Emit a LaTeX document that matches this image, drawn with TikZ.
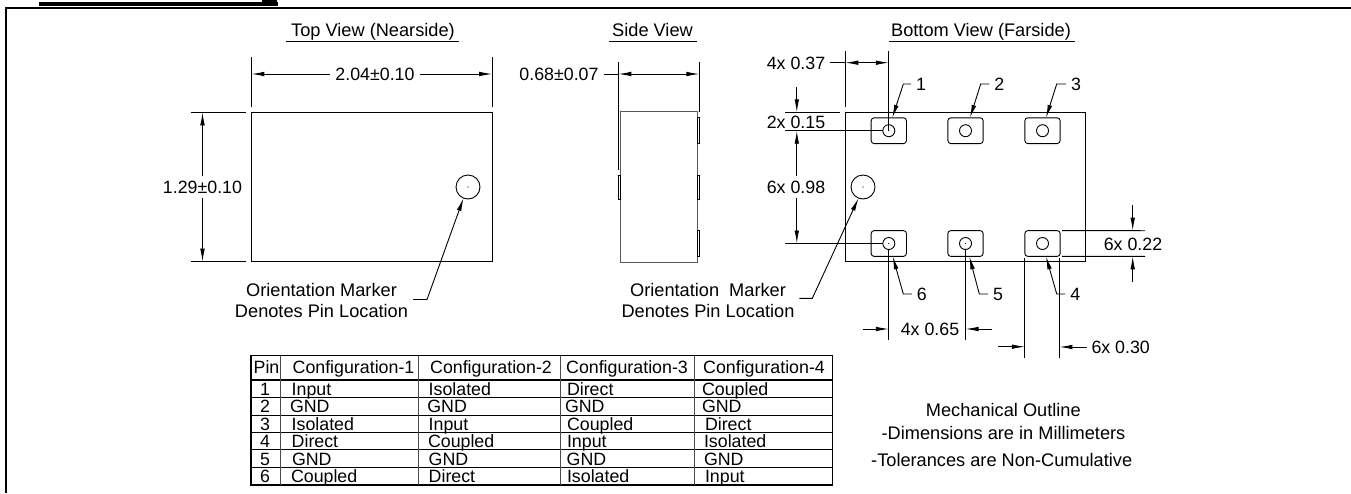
\documentclass[tikz,border=0pt]{standalone}
\usepackage{fontspec}
\setmainfont{Liberation Sans}
\usetikzlibrary{arrows.meta}
\newcommand{\padgen}[3]{
  \node(pad#1)[padbox] at (#2,#3){};
  \node(hole#1)[holemark] at (#2,#3){};
}
\newcommand{\pinlead}[5]{
  \node(pin#1)[dimlabel] at (#2,#3){#1};
  \draw[<-] (#4) -- ([xshift=#5pt]pin#1.center) -- (pin#1);
}
\newcommand{\titlegen}[5]{
  \node(title#1)[anchor=base,notefont] at (#2,36.5){#3};
  \draw[thinline] (#4,41) -- (#5,41);
}

\begin{document}
\begin{tikzpicture}[
  x=1pt,y=-1pt,
  >={Latex[length=13pt,width=4.6pt]},
  every node/.style={font=\fontsize{17.8}{20}\selectfont,inner sep=0pt,outer sep=0pt},
  every path/.style={line width=0.9pt},
  thinline/.style={line width=0.9pt},
  notefont/.style={font=\fontsize{18.2}{21}\selectfont},
  dimlabel/.style={inner sep=5pt},
  bodybox/.style={draw,minimum width=#1},
  padbox/.style={draw,rounded corners=3pt,minimum width=35.3pt,minimum height=25.8pt},
  holemark/.style={draw,circle,minimum size=12pt},
  markercircle/.style={draw,circle,minimum size=24pt},
  dotmark/.style={fill,circle,minimum size=1.2pt},
  cell/.style={anchor=base west},
  ]
  \useasboundingbox (0,0) rectangle (1351,493);
  % sheet frame
  \fill (39.3,1.7) rectangle (277.7,6);
  \fill (262,0) rectangle (277,1.7);
  \draw[line width=2.2pt] (5.9,493) -- (5.9,8) -- (1351,8);

  % top view
  \titlegen{top}{373}{Top View (Nearside)}{286}{459}
  \node(topview)[bodybox=240.8pt,minimum height=149.4pt] at (371.8,187){};
  \node(topmark)[markercircle] at (468,187){};
  \node(topdot)[dotmark] at (topmark){};
  \node(topwidth)[dimlabel] at (375,74){2.04±0.10};
  \node(topheight)[dimlabel] at (202.5,187){1.29±0.10};
  \draw ([yshift=5pt]topview.north west) -- ++(0,-50);
  \draw ([yshift=5pt]topview.north east) -- ++(0,-50);
  \draw ([xshift=-5pt]topview.north west) -- ++(-55,0);
  \draw ([xshift=-5pt]topview.south west) -- ++(-55,0);
  \draw[->] (topwidth) -- (topwidth -| topview.west);
  \draw[->] (topwidth) -- (topwidth -| topview.east);
  \draw[->] (topheight) -- (topheight |- topview.north);
  \draw[->] (topheight) -- (topheight |- topview.south);
  \node(topnote)[align=center,notefont] at (321.5,300){Orientation Marker\\Denotes Pin Location};
  \draw[<-] (topmark.-112) -- (427,299.5) -- (413,299.5);

  % side view
  \titlegen{side}{652.5}{Side View}{608.5}{697}
  \node(sideview)[bodybox=76.6pt,minimum height=150.6pt,draw=black!65] at (659,187){};
  \foreach \py/\ph [count=\c] in {130/26,187/24,243.7/26}{
    \node(sidepad\c)[draw,minimum width=2.6pt,minimum height=\ph pt] at (698.6,\py){};
  }
  \node(sidepad4)[draw,minimum width=2.6pt,minimum height=24pt] at (619.3,187){};
  \node(sidewidth)[dimlabel] at (559,74){0.68±0.07};
  \coordinate(sideleft) at (618.3,74);
  \coordinate(sideright) at (699.3,74);
  \draw (sideleft) ++(0,-12) -- ++(0,108);
  \draw (sideright) ++(0,-12) -- ++(0,50);
  \draw[<->] (sideleft) -- (sideright);
  \draw (sidewidth) -- (sideleft);

  % bottom view
  \titlegen{bottom}{981}{Bottom View (Farside)}{888.7}{1075}
  \node(bottomview)[bodybox=240.4pt,minimum height=149pt] at (965.5,186.8){};
  \padgen{1}{888.8}{130.7}
  \padgen{2}{965.5}{130.7}
  \padgen{3}{1042.5}{130.7}
  \padgen{6}{888.8}{243.5}
  \padgen{5}{965.5}{243.5}
  \padgen{4}{1042.5}{243.5}
  \foreach \h in {1,6,5}{
    \node(dot\h)[dotmark] at (hole\h){};
  }
  \node(bottommark)[markercircle] at (863,187){};
  \node(bottomdot)[dotmark] at (bottommark){};
  \pinlead{1}{921}{84}{[xshift=3.5pt]pad1.north}{-17.7}
  \pinlead{2}{999.3}{84}{[xshift=4.5pt]pad2.north}{-18.6}
  \pinlead{3}{1076}{84}{[xshift=3.5pt]pad3.north}{-19.3}
  \pinlead{6}{921.7}{294}{[xshift=3.9pt]pad6.south}{-18.4}
  \pinlead{5}{998}{294}{[xshift=3.8pt]pad5.south}{-18.7}
  \pinlead{4}{1075.3}{294}{[xshift=3.5pt]pad4.south}{-18.6}

  % dimensions of the bottom view
  \node(dimpitch)[dimlabel] at (796,63.5){4x 0.37};
  \draw (bottomview.north west) ++(0,-5) -- ++(0,-56);
  \draw (hole1.center) -- (hole1 |- 0,51);
  \draw[<->] (bottomview.west |- 0,62.7) -- (hole1 |- 0,62.7);
  \draw (dimpitch.east |- 0,62.7) -- (bottomview.west |- 0,62.7);
  \node(dimedge)[inner sep=0pt] at (796,122){2x 0.15};
  \node(dimspan)[dimlabel] at (796,187){6x 0.98};
  \draw (785,112.3) -- (840,112.3);
  \draw (785,130.7) -- (hole1);
  \draw (785,243.5) -- (hole6);
  \draw[->] (796.8,87) -- (796.8,112.3);
  \draw[->] (dimspan.north -| 796.8,0) -- (796.8,130.7);
  \draw[->] (dimspan.south -| 796.8,0) -- (796.8,243.5);
  \node(dimnote)[dimlabel] at (1133,244){6x 0.22};
  \draw (pad4.north east) ++(2,0) -- (1145,230.7);
  \draw (pad4.south east) ++(2,0) -- (1145,256.3);
  \draw[->] (1132.7,205) -- (1132.7,230.7);
  \draw[->] (1132.7,281.7) -- (1132.7,256.3);
  \node(dimrow)[dimlabel] at (930,329){4x 0.65};
  \draw (hole6) -- (hole6 |- 0,340);
  \draw (hole5) -- (hole5 |- 0,340);
  \draw[->] (862.7,329) -- (hole6 |- 0,329);
  \draw[->] (992,329) -- (hole5 |- 0,329);
  \node(dimpad)[dimlabel] at (1120.7,347){6x 0.30};
  \draw (pad4.south west) ++(0,1.5) -- (pad4.west |- 0,358.3);
  \draw (pad4.south east) ++(-0.7,1.5) -- ([xshift=-0.7pt]pad4.east |- 0,358.3);
  \draw[->] (998.3,346.7) -- (pad4.west |- 0,346.7);
  \draw[->] (dimpad) -- ([xshift=-0.7pt]pad4.east |- dimpad);
  \node(bottomnote)[align=center,notefont] at (708,300){Orientation\ \ Marker\\Denotes Pin Location};
  \draw[<-] (bottommark.-112) -- (812.3,298.3) -- (799.3,298.3);

  % pin table
  \node(pintable)[draw,line width=1.4pt,minimum width=581.3pt,minimum height=129.3pt] at (541.6,420.3){};
  \draw[line width=1.6pt] (251,380) -- (832.3,380);
  \foreach \ry in {397.7,415,432.3,449.7,467.3}{
    \draw (251,\ry) -- (832.3,\ry);
  }
  \foreach \rx in {280.3,418.3,560,694}{
    \draw[draw=black!70] (\rx,355.7) -- (\rx,485);
  }
  \foreach \cx/\ctext [count=\c] in {266.5/Pin,353.5/Configuration-1,491/Configuration-2,627/Configuration-3,764/Configuration-4}{
    \node(head\c)[anchor=base] at (\cx,373.3){\ctext};
  }
  \foreach \ry/\rtext [count=\c] in {395/1,412.3/2,430/3,447.3/4,465/5,482.7/6}{
    \node(row\c)[anchor=base] at (265,\ry){\rtext};
  }
  \foreach \cy/\cx/\ctext [count=\c] in {
    395/291.7/Input,395/428.7/Isolated,395/567/Direct,395/702/Coupled,
    412.3/290/GND,412.3/427.3/GND,412.3/565/GND,412.3/702/GND,
    430/291.7/Isolated,430/428.7/Input,430/567/Coupled,430/705/Direct,
    447.3/291.7/Direct,447.3/428/Coupled,447.3/567/Input,447.3/704/Isolated,
    465/292/GND,465/428.7/GND,465/566.7/GND,465/704/GND,
    482.7/291/Coupled,482.7/428.7/Direct,482.7/567/Isolated,482.7/705/Input}{
    \node(cell\c)[cell] at (\cx,\cy){\ctext};
  }

  % notes
  \node(noteone)[anchor=base,notefont] at (1003.3,416.7){Mechanical Outline};
  \node(notetwo)[anchor=base,notefont] at (1003.5,439){-Dimensions are in Millimeters};
  \node(notethree)[anchor=base,notefont] at (1001.7,466){-Tolerances are Non-Cumulative};
\end{tikzpicture}
\end{document}
